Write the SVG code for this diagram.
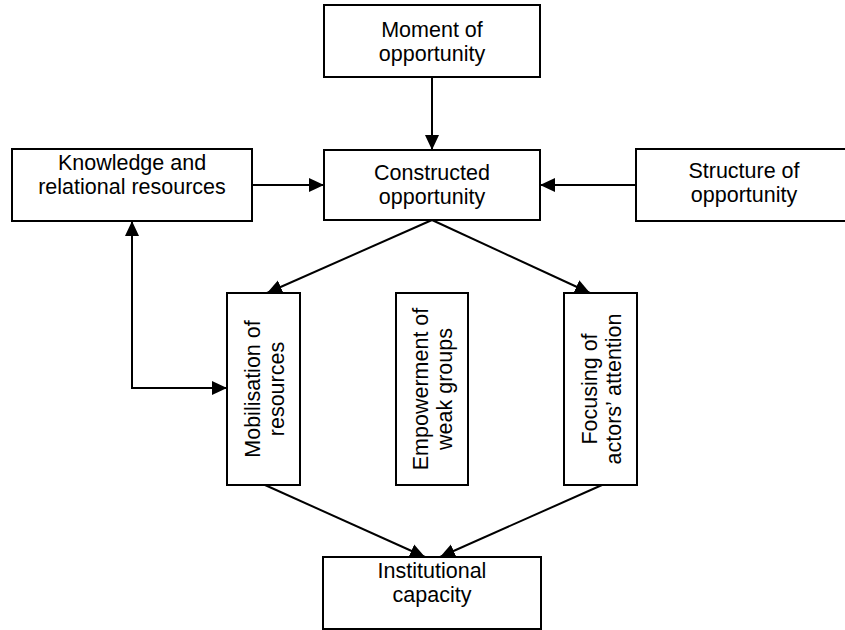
<svg xmlns="http://www.w3.org/2000/svg" width="845" height="630" viewBox="0 0 845 630">
  <defs>
    <marker id="arrow" markerUnits="userSpaceOnUse" markerWidth="16" markerHeight="16" viewBox="0 0 16 16" refX="15" refY="8" orient="auto-start-reverse">
      <path d="M0,1 L15,8 L0,15 Z" fill="#000"/>
    </marker>
  </defs>
  <style>
    .box { fill: #fff; stroke: #000; stroke-width: 2; }
    .lbl { font-family: "Liberation Sans", Arial, Helvetica, sans-serif; font-size: 21.5px; fill: #000; text-anchor: middle; }
    .edge { fill: none; stroke: #000; stroke-width: 2; }
  </style>
  <rect width="845" height="630" fill="#fff"/>

  <g id="moment">
    <rect class="box" x="324" y="5" width="216" height="72"/>
    <text class="lbl" x="432" y="37">Moment of</text>
    <text class="lbl" x="432" y="61">opportunity</text>
  </g>

  <g id="constructed">
    <rect class="box" x="324" y="150" width="216" height="70"/>
    <text class="lbl" x="432" y="180">Constructed</text>
    <text class="lbl" x="432" y="204">opportunity</text>
  </g>

  <g id="knowledge">
    <rect class="box" x="12" y="149" width="240" height="72"/>
    <text class="lbl" x="132" y="170">Knowledge and</text>
    <text class="lbl" x="132" y="194">relational resources</text>
  </g>

  <g id="structure">
    <rect class="box" x="636" y="149" width="216" height="72"/>
    <text class="lbl" x="744" y="178">Structure of</text>
    <text class="lbl" x="744" y="202">opportunity</text>
  </g>

  <g id="mobilisation">
    <rect class="box" x="227" y="293" width="73" height="192"/>
    <g transform="translate(263.5,389) rotate(-90)">
      <text class="lbl" x="0" y="-4">Mobilisation of</text>
      <text class="lbl" x="0" y="20">resources</text>
    </g>
  </g>

  <g id="empowerment">
    <rect class="box" x="396" y="293" width="72" height="192"/>
    <g transform="translate(432,389) rotate(-90)">
      <text class="lbl" x="0" y="-4">Empowerment of</text>
      <text class="lbl" x="0" y="20">weak groups</text>
    </g>
  </g>

  <g id="focusing">
    <rect class="box" x="564" y="293" width="73" height="192"/>
    <g transform="translate(600.5,389) rotate(-90)">
      <text class="lbl" x="0" y="-4">Focusing of</text>
      <text class="lbl" x="0" y="20">actors’ attention</text>
    </g>
  </g>

  <g id="institutional">
    <rect class="box" x="323" y="557" width="218" height="72"/>
    <text class="lbl" x="432" y="578">Institutional</text>
    <text class="lbl" x="432" y="602">capacity</text>
  </g>

  <g id="connectors">
    <line class="edge" x1="432" y1="77" x2="432" y2="150" marker-end="url(#arrow)"/>
    <line class="edge" x1="252" y1="185" x2="324" y2="185" marker-end="url(#arrow)"/>
    <line class="edge" x1="636" y1="185" x2="540" y2="185" marker-end="url(#arrow)"/>
    <line class="edge" x1="432" y1="220" x2="267" y2="293" marker-end="url(#arrow)"/>
    <line class="edge" x1="432" y1="220" x2="590" y2="293" marker-end="url(#arrow)"/>
    <line class="edge" x1="265" y1="485" x2="425" y2="557" marker-end="url(#arrow)"/>
    <line class="edge" x1="602" y1="485" x2="440" y2="557" marker-end="url(#arrow)"/>
    <polyline class="edge" points="132,221 132,388 227,388" marker-start="url(#arrow)" marker-end="url(#arrow)"/>
  </g>
</svg>
